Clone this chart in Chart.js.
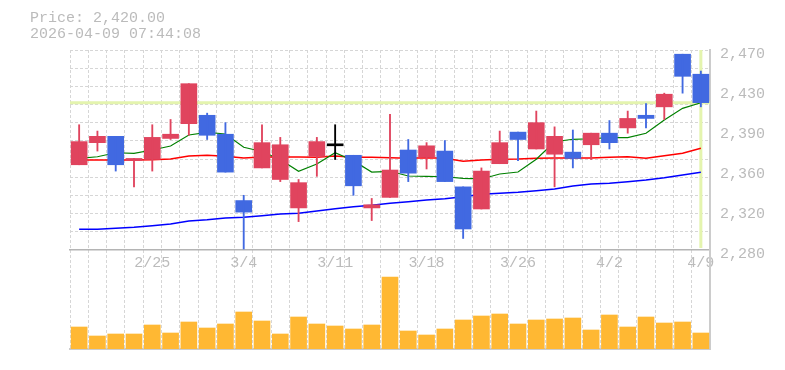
<!DOCTYPE html>
<html>
<head>
<meta charset="utf-8">
<script src="https://cdn.jsdelivr.net/npm/chart.js@4.4.1/dist/chart.umd.min.js"></script>
<style>
  body { margin: 0; background: #fff; }
  #wrap { width: 785px; height: 370px; }
</style>
</head>
<body>
<div id="wrap"><canvas id="chartPrix"></canvas></div>
<script>
'use strict';

// dates de séance (format M/D)
const dates = ['2/18','2/19','2/20','2/24','2/25','2/26','2/27','3/2','3/3','3/4',
    '3/5','3/6','3/9','3/10','3/11','3/12','3/13','3/16','3/17','3/18',
    '3/19','3/23','3/24','3/25','3/26','3/27','3/30','3/31','4/1','4/2',
    '4/3','4/6','4/7','4/8','4/9'];
const shownDates = ['2/25','3/4','3/11','3/18','3/26','4/2','4/9'];

// bougies
const open  = [2361,2382,2388,2365,2366,2386,2400,2408,2390,2327,2358,2347,2320,2369,2379,2370,2320,2330,2375,2368,2374,2340,2319,2362,2392,2376,2371,2373,2380,2391,2396,2408,2416,2466,2447];
const high  = [2399,2393,2388,2367,2399,2404,2438,2410,2401,2332,2399,2387,2347,2387,2399,2370,2329,2409,2385,2382,2384,2340,2358,2393,2392,2412,2397,2394,2391,2403,2412,2419,2429,2466,2450];
const low   = [2361,2374,2355,2340,2355,2385,2389,2385,2354,2281,2358,2345,2307,2350,2366,2332,2308,2330,2345,2357,2345,2291,2319,2362,2365,2376,2340,2358,2366,2376,2391,2396,2404,2429,2416];
const close = [2383,2388,2361,2367,2387,2390,2438,2389,2354,2316,2382,2380,2344,2383,2379,2341,2323,2356,2353,2379,2345,2300,2355,2382,2385,2401,2388,2367,2391,2382,2405,2405,2428,2445,2420];

// moyennes mobiles
const ma5  = [2367.1,2368.6,2372.4,2371.9,2375.0,2378.8,2389.3,2391.8,2390.2,2377.6,2373.6,2366.0,2354.8,2361.7,2372.4,2364.8,2354.1,2354.8,2350.3,2350.0,2349.6,2348.1,2347.5,2352.2,2354.1,2366.2,2382.9,2385.2,2385.7,2386.7,2386.7,2390.9,2403.5,2414.6,2419.9];
const ma25 = [2365.5,2365.5,2365.5,2365.5,2365.8,2366.4,2369.3,2370.0,2369.0,2367.4,2368.4,2368.4,2368.4,2368.1,2369.3,2368.1,2368.1,2367.7,2367.1,2367.7,2367.1,2364.3,2365.5,2366.2,2366.4,2367.1,2367.4,2367.4,2367.4,2368.1,2368.6,2367.1,2369.6,2371.9,2376.6];
const ma75 = [2299.7,2299.7,2300.6,2301.6,2303.1,2304.7,2307.6,2308.8,2310.4,2311.1,2312.6,2314.2,2314.9,2317.0,2319.2,2321.1,2322.5,2324.4,2325.9,2327.5,2328.8,2330.6,2332.9,2333.9,2334.8,2336.3,2338.0,2340.8,2342.7,2343.4,2344.9,2346.5,2348.7,2351.3,2353.8];

// volume (milliers)
const volume = [22,13,15,15,24,16,27,21,25,37,28,15,32,25,23,20,24,72,18,14,20,29,33,35,25,29,30,31,19,34,22,32,26,27,16];

// axe des prix
const priceTicks = [2280, 2318, 2356, 2394, 2432, 2470];
const gridSteps = [1,2,3,4,5,6,7,8,9,10,11];
const lastPrice = 2420;
const headerLines = ['Price: ' + lastPrice.toLocaleString('en-US', {minimumFractionDigits: 2}), '2026-04-09 07:44:08'];

const ROUGE = '#e0445e';
const BLEU = '#4169e1';
const candleColors = open.map((o, i) => close[i] > o ? ROUGE : (close[i] < o ? BLEU : '#000000'));
const fontMono = { family: "'Liberation Mono', monospace", size: 15 };

/* Texte en haut à gauche */
const headerPlugin = {
    id: 'header',
    afterDraw(chart) {
        const ctx = chart.ctx;
        ctx.save();
        ctx.font = "15px 'Liberation Mono', monospace";
        ctx.fillStyle = '#bbbbbb';
        ctx.textBaseline = 'middle';
        headerLines.forEach((t, i) => ctx.fillText(t, 30, 18 + i * 15.6));
        ctx.restore();
    }
};

/* Lignes du dernier cours */
const lastPricePlugin = {
    id: 'lastPrice',
    beforeDatasetsDraw(chart) {
        const {ctx, chartArea, scales} = chart;
        const y = scales.y.getPixelForValue(lastPrice);
        const x = scales.x.getPixelForValue(dates.length - 1);
        const bas = scales.y.getPixelForValue(priceTicks[0]);
        ctx.save();
        ctx.strokeStyle = '#e4f4ae';
        ctx.lineWidth = 3;
        ctx.beginPath();
        ctx.moveTo(chartArea.left, y);
        ctx.lineTo(chartArea.right, y);
        ctx.moveTo(x, chartArea.top);
        ctx.lineTo(x, bas - 2);
        ctx.stroke();
        ctx.restore();
    }
};

new Chart(document.getElementById('chartPrix'), {
    type: 'bar',
    data: {
        labels: dates,
        datasets: [
            {
                label: 'wick',
                data: high.map((h, i) => [low[i], h]),
                backgroundColor: candleColors,
                barThickness: 1.2,
                grouped: false,
                yAxisID: 'y'
            },
            {
                label: 'body',
                data: open.map((o, i) => [o, close[i]]),
                backgroundColor: candleColors,
                barThickness: 16,
                minBarLength: 2,
                grouped: false,
                yAxisID: 'y'
            },
            { type: 'line', label: 'MA5', data: ma5, borderColor: '#008000', borderWidth: 1.2, pointRadius: 0, yAxisID: 'y' },
            { type: 'line', label: 'MA25', data: ma25, borderColor: '#ff0000', borderWidth: 1.5, pointRadius: 0, yAxisID: 'y' },
            { type: 'line', label: 'MA75', data: ma75, borderColor: '#0000ff', borderWidth: 1.5, pointRadius: 0, yAxisID: 'y' },
            {
                label: 'volume',
                data: volume,
                backgroundColor: '#ffb833',
                barThickness: 16,
                grouped: false,
                yAxisID: 'v'
            }
        ]
    },
    options: {
        responsive: true,
        maintainAspectRatio: false,
        animation: false,
        layout: { padding: { left: 70, top: 50, right: 0, bottom: 21 } },
        plugins: {
            legend: { display: false },
            tooltip: { enabled: false }
        },
        scales: {
            x: {
                type: 'category',
                position: 'bottom',
                offset: true,
                grid: { offset: true, color: '#d6d6d6', drawTicks: false },
                border: { color: '#cccccc', width: 2, dash: [3, 2] },
                ticks: { display: false },
                afterFit: s => { s.height = 0; }
            },
            xl: {
                type: 'category',
                axis: 'x',
                position: { y: priceTicks[0] },
                offset: true,
                grid: { display: false, drawTicks: false },
                border: { color: '#b4b4b4', width: 1.5 },
                ticks: {
                    autoSkip: false,
                    maxRotation: 0,
                    padding: 4,
                    color: '#bbbbbb',
                    font: fontMono,
                    callback: function(v) {
                        const d = this.getLabelForValue(v);
                        return shownDates.includes(d) ? d : '';
                    }
                }
            },
            y: {
                type: 'linear',
                position: 'right',
                min: 2186,
                max: 2470,
                grid: { display: false, drawTicks: false },
                border: { color: '#cccccc', width: 2 },
                afterBuildTicks: s => { s.ticks = priceTicks.map(v => ({ value: v })); },
                afterFit: s => { s.width = 75; },
                ticks: {
                    padding: 10,
                    labelOffset: 4,
                    color: '#bbbbbb',
                    font: fontMono,
                    callback: v => (Math.round(v / 10) * 10).toLocaleString('en-US')
                }
            },
            v: {
                type: 'linear',
                axis: 'y',
                display: false,
                min: 0,
                max: 299
            },
            g: {
                type: 'linear',
                axis: 'y',
                position: 'left',
                min: -5.445,
                max: 11,
                afterBuildTicks: s => { s.ticks = gridSteps.map(v => ({ value: v })); },
                afterFit: s => { s.width = 0; },
                ticks: { display: false },
                grid: { color: '#d6d6d6', drawTicks: false },
                border: { display: false, dash: [3, 2] }
            }
        }
    },
    plugins: [headerPlugin, lastPricePlugin]
});
</script>
</body>
</html>
